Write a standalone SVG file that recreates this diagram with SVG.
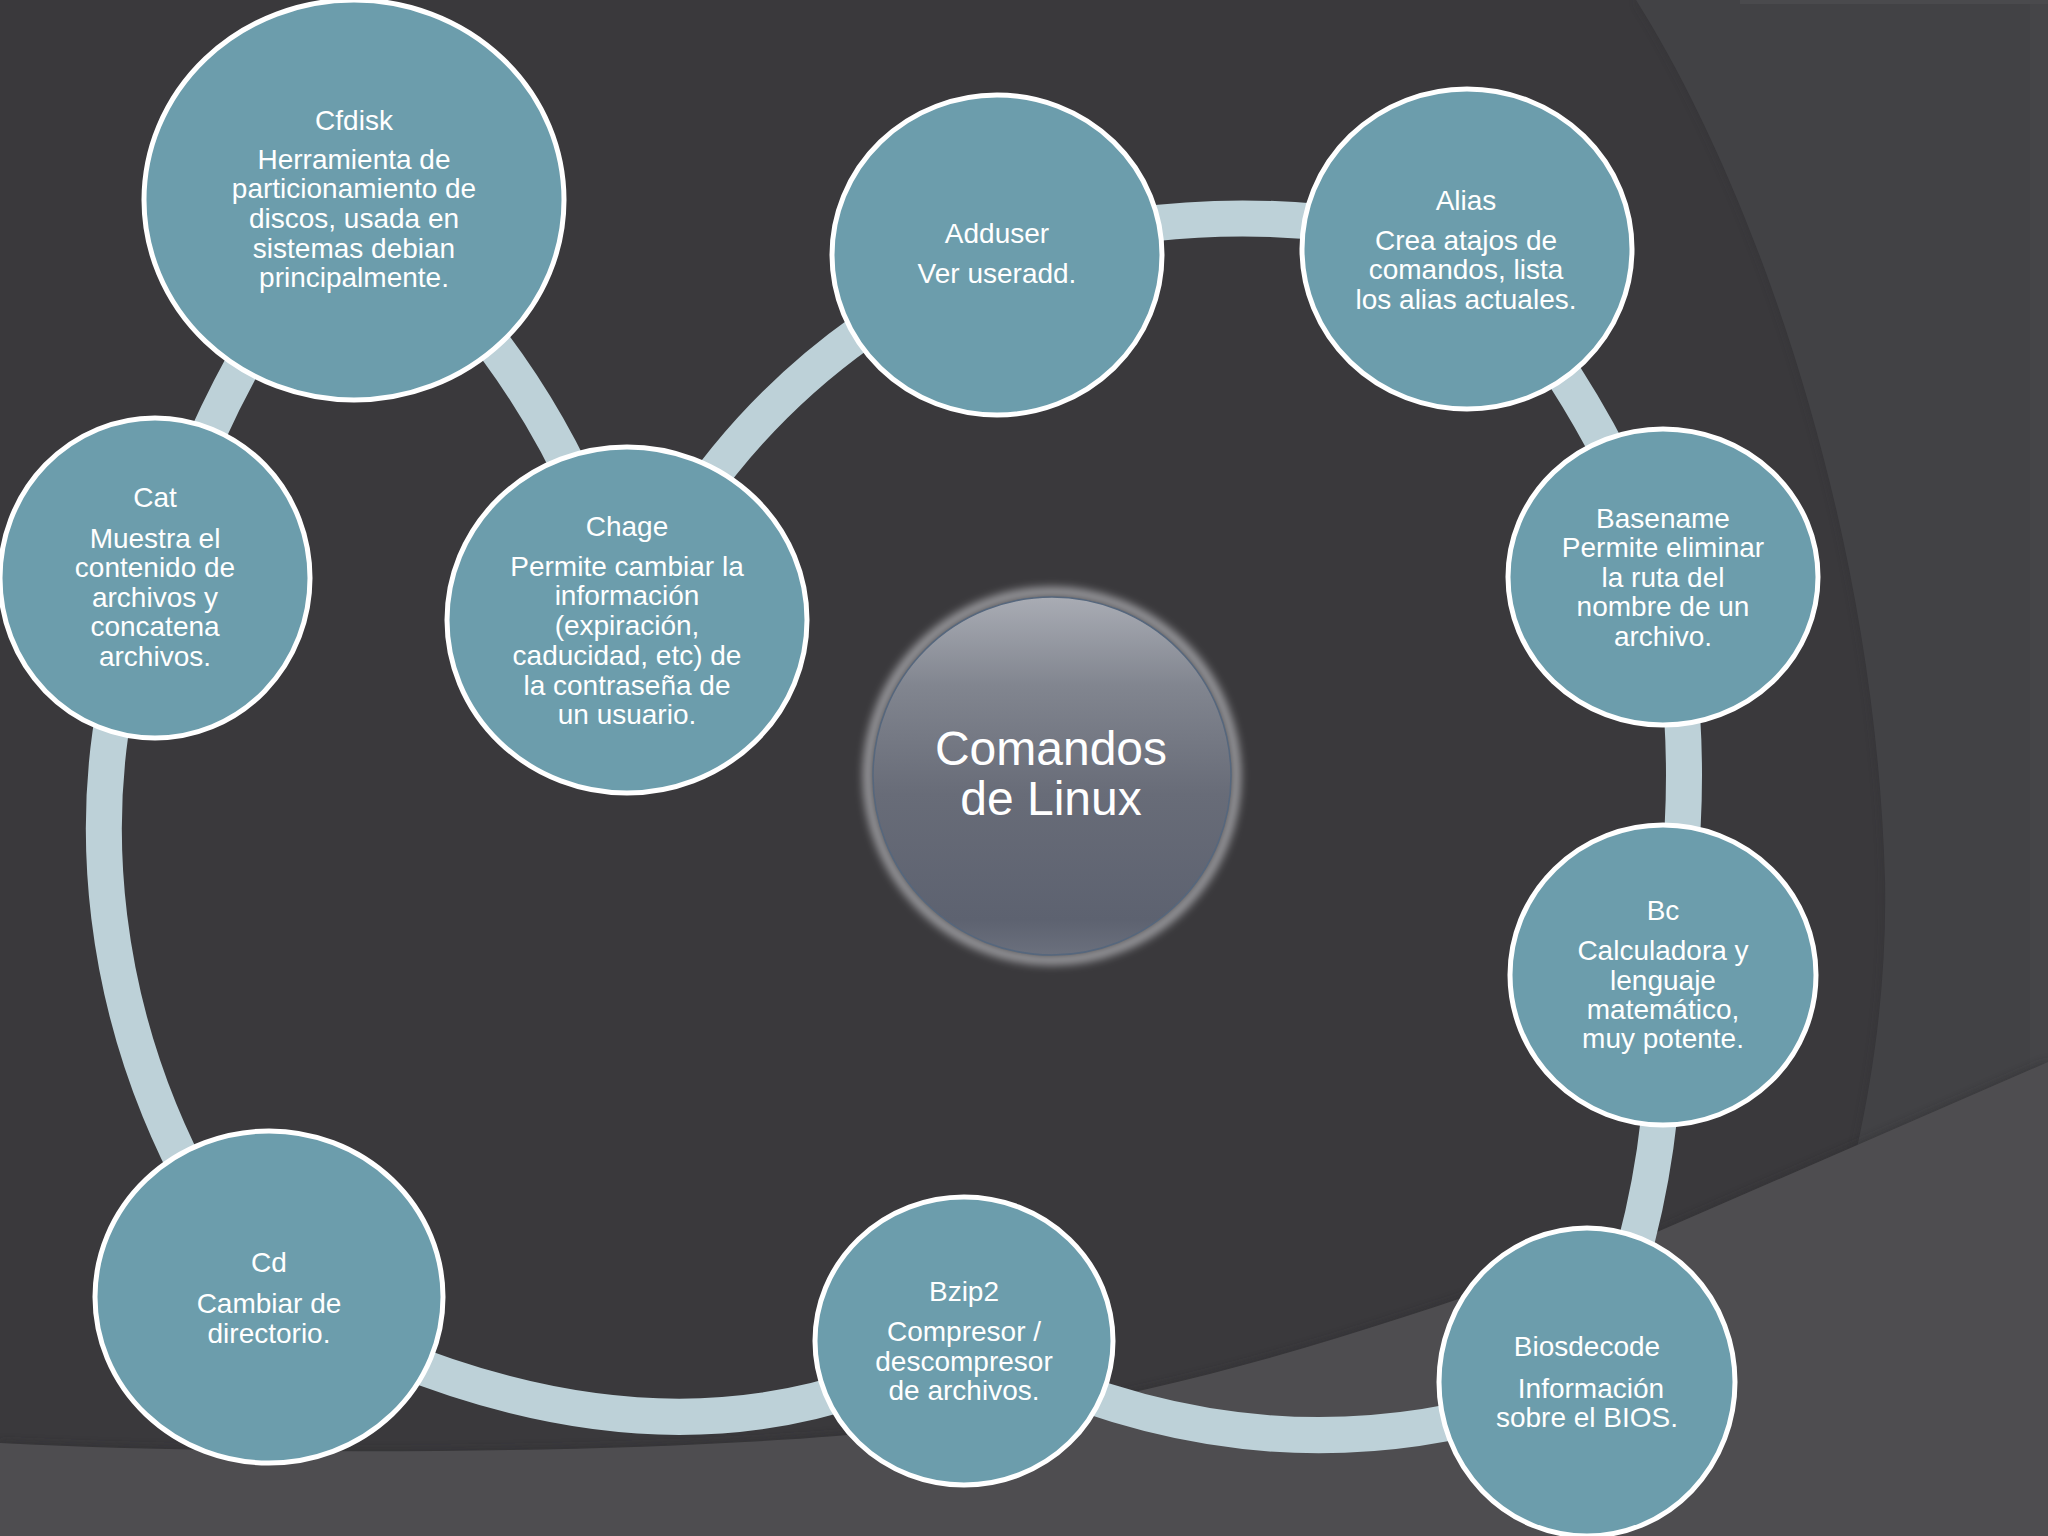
<svg xmlns="http://www.w3.org/2000/svg" width="2048" height="1536" viewBox="0 0 2048 1536">
<style>
.bg{fill:#3A393C}
.band1{fill:#424245}
.band2{fill:#4E4D50}
.node{fill:#6C9DAC;stroke:#FFFFFF;stroke-width:5}
.conn{fill:none;stroke:#BDD1D8;stroke-width:36}
.t{font-family:"Liberation Sans",Arial,sans-serif;font-size:28px;fill:#FFFFFF;text-anchor:middle}
.tc{font-family:"Liberation Sans",Arial,sans-serif;font-size:48px;fill:#FFFFFF;text-anchor:middle}
</style>
<defs>
<linearGradient id="cg" x1="0" y1="0" x2="0" y2="1">
<stop offset="0" stop-color="#A9ACB4"/>
<stop offset="0.25" stop-color="#81858F"/>
<stop offset="0.55" stop-color="#686C78"/>
<stop offset="0.9" stop-color="#5D6270"/>
<stop offset="1" stop-color="#6B707D"/>
</linearGradient>
<filter id="blur" x="-20%" y="-20%" width="140%" height="140%">
<feGaussianBlur stdDeviation="4"/>
</filter>
<filter id="sh" x="-5%" y="-50%" width="110%" height="200%">
<feGaussianBlur stdDeviation="5"/>
</filter>
</defs>
<rect class="bg" x="0" y="0" width="2048" height="1536"/>
<path d="M1636,0 C1750,180 1875,520 1885,880 C1890,1130 1800,1380 1700,1536 L2048,1536 L2048,0 Z" fill="#2E2D30" opacity="0.4" filter="url(#sh)"/>
<path class="band1" d="M1636,0 C1750,180 1875,520 1885,880 C1890,1130 1800,1380 1700,1536 L2048,1536 L2048,0 Z"/>
<rect x="2030" y="0" width="18" height="1536" fill="#454548"/>
<rect x="1740" y="0" width="308" height="4" fill="#4A4A4D"/>
<path d="M0,1443 C300,1458 700,1452 900,1430 C1200,1400 1450,1300 1657,1232 L2048,1062 L2048,1536 L0,1536 Z" fill="#2C2B2E" opacity="0.6" filter="url(#sh)"/>
<path class="band2" d="M0,1443 C300,1458 700,1452 900,1430 C1200,1400 1450,1300 1657,1232 L2048,1062 L2048,1536 L0,1536 Z"/>
<g id="connectors">
<path class="conn" d="M155,578 Q215,370 354,200"/>
<path class="conn" d="M354,200 Q557,366 627,620"/>
<path class="conn" d="M627,620 Q740,370 997,255"/>
<path class="conn" d="M997,255 Q1232,185 1467,249"/>
<path class="conn" d="M1467,249 Q1598,394 1663,577"/>
<path class="conn" d="M1663,577 Q1705,775 1663,975"/>
<path class="conn" d="M1663,975 Q1674,1187 1587,1382"/>
<path class="conn" d="M1587,1382 Q1274,1506 964,1341"/>
<path class="conn" d="M964,1341 Q663,1512 269,1297"/>
<path class="conn" d="M269,1297 C80,1060 70,760 155,578"/>
</g>
<g id="center">
<circle cx="1052" cy="776" r="184" fill="none" stroke="#9C9CA0" stroke-width="10" filter="url(#blur)"/>
<circle cx="1052" cy="776" r="179" fill="url(#cg)" stroke="#56677D" stroke-width="1.5"/>
<text class="tc" x="1051" y="765">Comandos</text>
<text class="tc" x="1051" y="815">de Linux</text>
</g>
<g id="cfdisk">
<ellipse class="node" cx="354" cy="200" rx="210" ry="200"/>
<text class="t" x="354" y="130">Cfdisk</text>
<text class="t" x="354" y="169">Herramienta de</text>
<text class="t" x="354" y="198">particionamiento de</text>
<text class="t" x="354" y="228">discos, usada en</text>
<text class="t" x="354" y="258">sistemas debian</text>
<text class="t" x="354" y="287">principalmente.</text>
</g>
<g id="adduser">
<ellipse class="node" cx="997" cy="255" rx="165" ry="160"/>
<text class="t" x="997" y="243">Adduser</text>
<text class="t" x="997" y="283">Ver useradd.</text>
</g>
<g id="alias">
<ellipse class="node" cx="1467" cy="249" rx="165" ry="160"/>
<text class="t" x="1466" y="210">Alias</text>
<text class="t" x="1466" y="250">Crea atajos de</text>
<text class="t" x="1466" y="279">comandos, lista</text>
<text class="t" x="1466" y="309">los alias actuales.</text>
</g>
<g id="basename">
<ellipse class="node" cx="1663" cy="577" rx="155" ry="148"/>
<text class="t" x="1663" y="528">Basename</text>
<text class="t" x="1663" y="557">Permite eliminar</text>
<text class="t" x="1663" y="587">la ruta del</text>
<text class="t" x="1663" y="616">nombre de un</text>
<text class="t" x="1663" y="646">archivo.</text>
</g>
<g id="bc">
<ellipse class="node" cx="1663" cy="975" rx="153" ry="150"/>
<text class="t" x="1663" y="920">Bc</text>
<text class="t" x="1663" y="960">Calculadora y</text>
<text class="t" x="1663" y="990">lenguaje</text>
<text class="t" x="1663" y="1019">matemático,</text>
<text class="t" x="1663" y="1048">muy potente.</text>
</g>
<g id="biosdecode">
<ellipse class="node" cx="1587" cy="1382" rx="148" ry="154"/>
<text class="t" x="1587" y="1356">Biosdecode</text>
<text class="t" x="1591" y="1398">Información</text>
<text class="t" x="1587" y="1427">sobre el BIOS.</text>
</g>
<g id="bzip2">
<ellipse class="node" cx="964" cy="1341" rx="149" ry="144"/>
<text class="t" x="964" y="1301">Bzip2</text>
<text class="t" x="964" y="1341">Compresor /</text>
<text class="t" x="964" y="1371">descompresor</text>
<text class="t" x="964" y="1400">de archivos.</text>
</g>
<g id="cd">
<ellipse class="node" cx="269" cy="1297" rx="174" ry="166"/>
<text class="t" x="269" y="1272">Cd</text>
<text class="t" x="269" y="1313">Cambiar de</text>
<text class="t" x="269" y="1343">directorio.</text>
</g>
<g id="cat">
<ellipse class="node" cx="155" cy="578" rx="155" ry="160"/>
<text class="t" x="155" y="507">Cat</text>
<text class="t" x="155" y="548">Muestra el</text>
<text class="t" x="155" y="577">contenido de</text>
<text class="t" x="155" y="607">archivos y</text>
<text class="t" x="155" y="636">concatena</text>
<text class="t" x="155" y="666">archivos.</text>
</g>
<g id="chage">
<ellipse class="node" cx="627" cy="620" rx="180" ry="173"/>
<text class="t" x="627" y="536">Chage</text>
<text class="t" x="627" y="576">Permite cambiar la</text>
<text class="t" x="627" y="605">información</text>
<text class="t" x="627" y="635">(expiración,</text>
<text class="t" x="627" y="665">caducidad, etc) de</text>
<text class="t" x="627" y="695">la contraseña de</text>
<text class="t" x="627" y="724">un usuario.</text>
</g>
</svg>
